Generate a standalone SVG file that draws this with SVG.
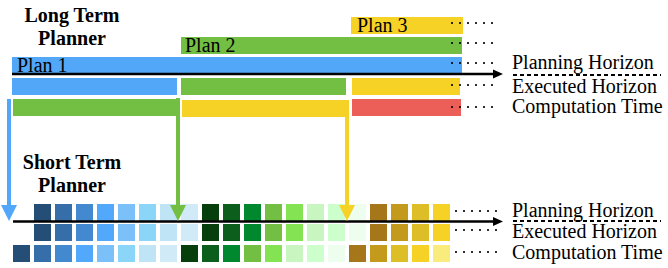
<svg xmlns="http://www.w3.org/2000/svg" width="668" height="268" viewBox="0 0 668 268">
<style>
text{font-family:'Liberation Serif','Times New Roman','DejaVu Serif',serif;fill:#000}
.title{font-size:20px;font-weight:bold;text-anchor:middle}
.lab{font-size:20px}
.dots{stroke:#000;stroke-width:2.2;stroke-linecap:round;stroke-dasharray:0 8;fill:none}
.dash{stroke:#000;stroke-width:2;stroke-dasharray:4 3;fill:none}
.axis{stroke:#000;stroke-width:2.6;fill:none}
</style>
<rect width="668" height="268" fill="#fff"/>

<g id="long-term-title" font-family="Liberation Serif, serif">
<text class="title" x="72" y="22">Long Term</text>
<text class="title" x="72" y="45">Planner</text>
</g>

<g id="plan3" font-family="Liberation Serif, serif">
<rect x="351" y="17" width="112" height="17" fill="#f6d126"/>
<text class="lab" x="357" y="32">Plan 3</text>
</g>
<g id="plan2" font-family="Liberation Serif, serif">
<rect x="181" y="37" width="281" height="17" fill="#72bf44"/>
<text class="lab" x="185" y="52">Plan 2</text>
</g>
<g id="plan1" font-family="Liberation Serif, serif">
<rect x="12" y="57" width="450" height="17" fill="#52a7f9"/>
<text class="lab" x="17" y="72">Plan 1</text>
</g>

<g id="executed-top">
<rect x="12" y="78" width="165" height="17" fill="#52a7f9"/>
<rect x="181" y="78" width="165" height="17" fill="#72bf44"/>
<rect x="352" y="78" width="108" height="17" fill="#f6d126"/>
</g>
<g id="computation-top">
<rect x="13" y="99" width="163" height="17" fill="#72bf44"/>
<rect x="182" y="100" width="167" height="17" fill="#f6d126"/>
<rect x="352" y="99" width="109" height="17" fill="#ec5f58"/>
</g>

<g id="short-term-title" font-family="Liberation Serif, serif">
<text class="title" x="72" y="169">Short Term</text>
<text class="title" x="72" y="192">Planner</text>
</g>

<g id="short-term-grid">
<rect x="34" y="204" width="17" height="17" fill="#244e76"/>
<rect x="55" y="204" width="17" height="17" fill="#356ea8"/>
<rect x="76" y="204" width="17" height="17" fill="#4289d0"/>
<rect x="97" y="204" width="17" height="17" fill="#52a8fb"/>
<rect x="118" y="204" width="17" height="17" fill="#7cc0fa"/>
<rect x="139" y="204" width="17" height="17" fill="#8bd6f8"/>
<rect x="160" y="204" width="17" height="17" fill="#bfe4f6"/>
<rect x="181" y="204" width="17" height="17" fill="#d0eaf8"/>
<rect x="202" y="204" width="17" height="17" fill="#073f0c"/>
<rect x="223" y="204" width="17" height="17" fill="#0b5e1c"/>
<rect x="244" y="204" width="17" height="17" fill="#00882e"/>
<rect x="265" y="204" width="17" height="17" fill="#72bf44"/>
<rect x="286" y="204" width="17" height="17" fill="#84e352"/>
<rect x="307" y="204" width="17" height="17" fill="#c8f5c0"/>
<rect x="328" y="204" width="17" height="17" fill="#ccffcc"/>
<rect x="349" y="204" width="17" height="17" fill="#edfeee"/>
<rect x="370" y="204" width="17" height="17" fill="#a6761a"/>
<rect x="391" y="204" width="17" height="17" fill="#c49a1c"/>
<rect x="412" y="204" width="17" height="17" fill="#ddbe26"/>
<rect x="433" y="204" width="17" height="17" fill="#f6d126"/>
<rect x="34" y="224" width="17" height="17" fill="#244e76"/>
<rect x="55" y="224" width="17" height="17" fill="#356ea8"/>
<rect x="76" y="224" width="17" height="17" fill="#4289d0"/>
<rect x="97" y="224" width="17" height="17" fill="#52a8fb"/>
<rect x="118" y="224" width="17" height="17" fill="#7cc0fa"/>
<rect x="139" y="224" width="17" height="17" fill="#8bd6f8"/>
<rect x="160" y="224" width="17" height="17" fill="#bfe4f6"/>
<rect x="181" y="224" width="17" height="17" fill="#d0eaf8"/>
<rect x="202" y="224" width="17" height="17" fill="#073f0c"/>
<rect x="223" y="224" width="17" height="17" fill="#0b5e1c"/>
<rect x="244" y="224" width="17" height="17" fill="#00882e"/>
<rect x="265" y="224" width="17" height="17" fill="#72bf44"/>
<rect x="286" y="224" width="17" height="17" fill="#84e352"/>
<rect x="307" y="224" width="17" height="17" fill="#c8f5c0"/>
<rect x="328" y="224" width="17" height="17" fill="#ccffcc"/>
<rect x="349" y="224" width="17" height="17" fill="#edfeee"/>
<rect x="370" y="224" width="17" height="17" fill="#a6761a"/>
<rect x="391" y="224" width="17" height="17" fill="#c49a1c"/>
<rect x="412" y="224" width="17" height="17" fill="#ddbe26"/>
<rect x="433" y="224" width="17" height="17" fill="#f6d126"/>
<rect x="13" y="245" width="17" height="17" fill="#244e76"/>
<rect x="34" y="245" width="17" height="17" fill="#356ea8"/>
<rect x="55" y="245" width="17" height="17" fill="#4289d0"/>
<rect x="76" y="245" width="17" height="17" fill="#52a8fb"/>
<rect x="97" y="245" width="17" height="17" fill="#7cc0fa"/>
<rect x="118" y="245" width="17" height="17" fill="#8bd6f8"/>
<rect x="139" y="245" width="17" height="17" fill="#bfe4f6"/>
<rect x="160" y="245" width="17" height="17" fill="#d0eaf8"/>
<rect x="181" y="245" width="17" height="17" fill="#073f0c"/>
<rect x="202" y="245" width="17" height="17" fill="#0b5e1c"/>
<rect x="223" y="245" width="17" height="17" fill="#00882e"/>
<rect x="244" y="245" width="17" height="17" fill="#72bf44"/>
<rect x="265" y="245" width="17" height="17" fill="#84e352"/>
<rect x="286" y="245" width="17" height="17" fill="#c8f5c0"/>
<rect x="307" y="245" width="17" height="17" fill="#ccffcc"/>
<rect x="328" y="245" width="17" height="17" fill="#edfeee"/>
<rect x="349" y="245" width="17" height="17" fill="#a6761a"/>
<rect x="370" y="245" width="17" height="17" fill="#c49a1c"/>
<rect x="391" y="245" width="17" height="17" fill="#ddbe26"/>
<rect x="412" y="245" width="17" height="17" fill="#f6d126"/>
<rect x="433" y="245" width="17" height="17" fill="#f9eb7c"/>
</g>

<g id="legend-top" font-family="Liberation Serif, serif">
<text class="lab" x="512" y="69">Planning Horizon</text>
<text class="lab" x="512" y="93">Executed Horizon</text>
<text class="lab" x="512" y="113">Computation Time</text>
<line class="dash" x1="513" y1="75" x2="661" y2="75"/>
</g>
<g id="legend-bottom" font-family="Liberation Serif, serif">
<text class="lab" x="512" y="217">Planning Horizon</text>
<text class="lab" x="512" y="238">Executed Horizon</text>
<text class="lab" x="512" y="259">Computation Time</text>
<line class="dash" x1="513" y1="221" x2="661" y2="221"/>
</g>

<g id="connectors">
<line class="dots" x1="452" y1="23" x2="493" y2="23"/>
<line class="dots" x1="452" y1="43" x2="493" y2="43"/>
<line class="dots" x1="452" y1="63" x2="493" y2="63"/>
<line class="dots" x1="452" y1="85" x2="493" y2="85"/>
<line class="dots" x1="452" y1="107" x2="493" y2="107"/>
<line class="dots" x1="456" y1="211" x2="497" y2="211"/>
<line class="dots" x1="456" y1="230" x2="497" y2="230"/>
<line class="dots" x1="456" y1="252" x2="497" y2="252"/>
<line class="axis" x1="12" y1="74" x2="495" y2="74"/>
<polygon points="493,69.5 503,74 493,78.5" fill="#000"/>
<line class="axis" x1="13" y1="221.5" x2="495" y2="221.5"/>
<polygon points="493,217 503,221.5 493,226" fill="#000"/>
<line x1="9" y1="99" x2="9" y2="207" stroke="#52a7f9" stroke-width="4"/>
<polygon points="1,205 17,205 9,221" fill="#52a7f9"/>
<line x1="178" y1="98" x2="178" y2="207" stroke="#72bf44" stroke-width="4"/>
<polygon points="170,205 186,205 178,221" fill="#72bf44"/>
<line x1="347" y1="100" x2="347" y2="207" stroke="#f6d126" stroke-width="4"/>
<polygon points="339,205 355,205 347,221" fill="#f6d126"/>
</g>
</svg>
